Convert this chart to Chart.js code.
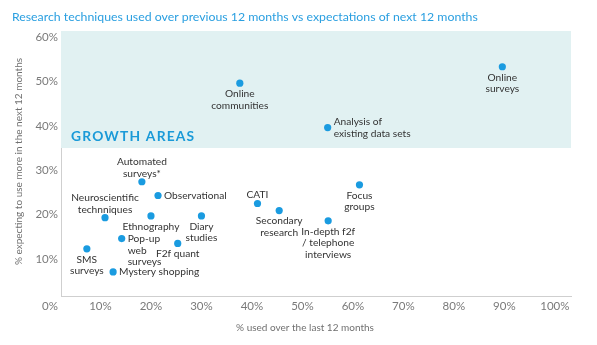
<!DOCTYPE html>
<html>
<head>
<meta charset="utf-8">
<script src="https://cdn.jsdelivr.net/npm/chart.js@4.4.1/dist/chart.umd.min.js"></script>
<style>
  html, body { margin: 0; padding: 0; background: #fff; }
  #wrap { width: 597px; height: 345px; }
</style>
</head>
<body>
<div id="wrap"><canvas id="chart" width="597" height="345"></canvas></div>
<script>
// data
const techniques = [
  ['Online', 'communities'],
  ['Online', 'surveys'],
  ['Analysis of', 'existing data sets'],
  ['Automated', 'surveys*'],
  ['Observational'],
  ['Neuroscientific', 'technniques'],
  ['Ethnography'],
  ['Diary', 'studies'],
  ['Pop-up', 'web', 'surveys'],
  ['F2f quant'],
  ['SMS', 'surveys'],
  ['Mystery shopping'],
  ['CATI'],
  ['Secondary', 'research'],
  ['Focus', 'groups'],
  ['In-depth f2f', '/ telephone', 'interviews']
];
const usedLast12 = [37.6, 89.6, 55.0, 18.2, 21.4, 10.9, 20.0, 30.0, 14.2, 25.3, 7.3, 12.5, 41.1, 45.4, 61.3, 55.1];
const expectMore = [49.6, 53.3, 39.6, 27.4, 24.3, 19.3, 19.7, 19.7, 14.6, 13.5, 12.3, 7.1, 22.5, 20.9, 26.7, 18.6];
const labelSide = ['below', 'below', 'right', 'above', 'right', 'above', 'below', 'below',
                   'rightDown', 'below', 'below', 'right', 'above', 'below', 'below', 'below'];
const xTicks = [0, 10, 20, 30, 40, 50, 60, 70, 80, 90, 100];
const yTicks = [10, 20, 30, 40, 50, 60];
const growthThreshold = 35;
const growthLabel = 'GROWTH AREAS';
const chartTitle = 'Research techniques used over previous 12 months vs expectations of next 12 months';
const xTitle = '% used over the last 12 months';
const yTitle = '% expecting to use more in the next 12 months';

const blue = '#1a9be0';
const LABEL_FONT = '10.2px Lato, "Open Sans", sans-serif';

const decorations = {
  id: 'decorations',
  beforeDatasetsDraw(chart) {
    const { ctx, chartArea, scales } = chart;
    const yTop = chartArea.top;
    const yLow = scales.y.getPixelForValue(growthThreshold);
    ctx.save();
    ctx.fillStyle = '#e1f1f2';
    ctx.fillRect(chartArea.left, yTop, chartArea.right - chartArea.left, yLow - yTop);
    ctx.fillStyle = '#1a9ad8';
    ctx.font = 'bold 13.8px Lato, "Open Sans", sans-serif';
    ctx.letterSpacing = '1.2px';
    ctx.textBaseline = 'middle';
    ctx.textAlign = 'left';
    ctx.fillText(growthLabel, chartArea.left + 10, yLow - 11);
    ctx.restore();
  },
  afterDraw(chart) {
    const { ctx, chartArea } = chart;
    ctx.save();
    ctx.fillStyle = '#2a9fe0';
    ctx.font = '12.3px Lato, "Open Sans", sans-serif';
    ctx.textAlign = 'left';
    ctx.textBaseline = 'middle';
    ctx.fillText(chartTitle, 12, 17);

    ctx.fillStyle = '#707070';
    ctx.font = '10px Lato, "Open Sans", sans-serif';
    ctx.textAlign = 'center';
    ctx.fillText(xTitle, 305, 328);

    ctx.translate(19, (chartArea.top + chartArea.bottom) / 2 - 2);
    ctx.rotate(-Math.PI / 2);
    ctx.fillText(yTitle, 0, 0);
    ctx.restore();

    // point labels
    const meta = chart.getDatasetMeta(0);
    ctx.save();
    ctx.font = LABEL_FONT;
    ctx.fillStyle = '#333333';
    ctx.textBaseline = 'middle';
    const lh = 11.7;
    meta.data.forEach((pt, i) => {
      const lines = techniques[i];
      const side = labelSide[i];
      lines.forEach((line, j) => {
        let x = pt.x, y = pt.y;
        if (side === 'below') {
          ctx.textAlign = 'center';
          y = pt.y + 10.5 + j * lh;
        } else if (side === 'above') {
          ctx.textAlign = 'center';
          y = pt.y - 8.5 - (lines.length - 1 - j) * lh;
        } else if (side === 'right') {
          ctx.textAlign = 'left';
          x = pt.x + 6;
          y = pt.y - (lines.length - 1) * lh / 2 + j * lh;
        } else {
          ctx.textAlign = 'left';
          x = pt.x + 6;
          y = pt.y + j * lh;
        }
        ctx.fillText(line, x, y);
      });
    });
    ctx.restore();
  }
};

new Chart(document.getElementById('chart'), {
  type: 'scatter',
  data: {
    datasets: [{
      data: usedLast12.map((x, i) => ({ x: x, y: expectMore[i] })),
      backgroundColor: blue,
      borderWidth: 0,
      pointRadius: 3.6,
      pointHoverRadius: 3.6
    }]
  },
  options: {
    responsive: false,
    animation: false,
    events: [],
    layout: { padding: { top: 31, right: 26, left: 0, bottom: 0 } },
    plugins: { legend: { display: false }, tooltip: { enabled: false }, title: { display: false } },
    scales: {
      x: {
        type: 'linear',
        min: 2.18,
        max: 103.2,
        afterBuildTicks: s => { s.ticks = xTicks.map(v => ({ value: v })); },
        afterFit: s => { s.height = 49; },
        grid: { display: false, drawTicks: false },
        border: { display: true, color: '#cfcfcf', width: 1 },
        ticks: {
          padding: 3,
          color: '#7a7a7a',
          font: { family: 'Lato, "Open Sans", sans-serif', size: 11.5 },
          maxRotation: 0,
          autoSkip: false,
          callback: v => v + '%'
        }
      },
      y: {
        type: 'linear',
        min: 1.67,
        max: 61.35,
        afterBuildTicks: s => { s.ticks = yTicks.map(v => ({ value: v })); },
        afterFit: s => { s.width = 61; },
        grid: { display: false, drawTicks: false },
        border: { display: true, color: '#cfcfcf', width: 1 },
        ticks: {
          padding: 3,
          color: '#7a7a7a',
          font: { family: 'Lato, "Open Sans", sans-serif', size: 11.5 },
          callback: v => v + '%'
        }
      }
    }
  },
  plugins: [decorations]
});
</script>
</body>
</html>
